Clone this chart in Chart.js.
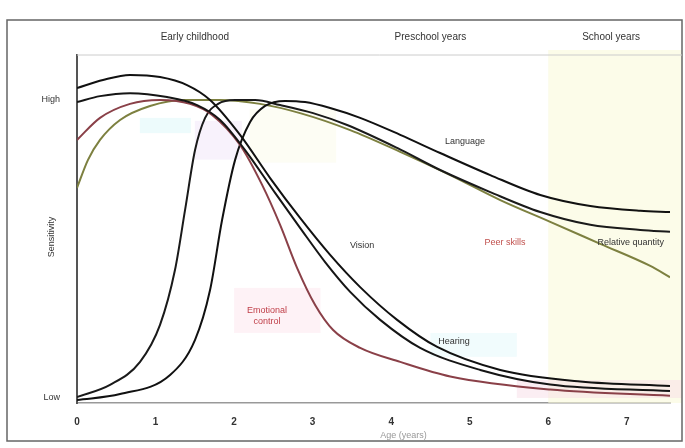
<!DOCTYPE html>
<html>
<head>
<meta charset="utf-8">
<script src="https://cdn.jsdelivr.net/npm/chart.js@4"></script>
<style>
  html, body { margin: 0; padding: 0; background: #fff; }
  canvas { display: block; }
</style>
</head>
<body>
<canvas id="sensitivityChart" width="685" height="448"></canvas>
<script>
// values (x = age in years, y = sensitivity, 0 = Low, 1 = High)
const xTicks = [0, 1, 2, 3, 4, 5, 6, 7];
const yTickLabels = { 0: 'Low', 1: 'High' };
const periods = ['Early childhood', 'Preschool years', 'School years'];
const periodCenters = [1.5, 4.5, 6.8];

const visionX = [0, 0.331, 0.675, 1.057, 1.401, 1.694, 2.076, 2.459, 2.84, 3.223, 3.605, 4.076, 4.586, 5.389, 6.408, 7.55];
const visionY = [1.04, 1.067, 1.084, 1.077, 1.05, 1.0, 0.883, 0.738, 0.604, 0.48, 0.372, 0.262, 0.171, 0.094, 0.055, 0.04];

const blackTwoX = [0, 0.293, 0.675, 1.146, 1.529, 1.822, 2.14, 2.522, 2.84, 3.159, 3.478, 3.86, 4.369, 5.134, 6.025, 7.55];
const blackTwoY = [0.993, 1.013, 1.023, 1.01, 0.983, 0.933, 0.832, 0.688, 0.571, 0.456, 0.356, 0.262, 0.168, 0.094, 0.045, 0.023];

const emotionX = [0, 0.293, 0.675, 1.057, 1.439, 1.72, 2.076, 2.357, 2.586, 2.803, 3.032, 3.261, 3.605, 4.115, 4.752, 6.025, 7.55];
const emotionY = [0.866, 0.94, 0.987, 1.0, 0.987, 0.95, 0.849, 0.715, 0.581, 0.436, 0.312, 0.228, 0.168, 0.121, 0.072, 0.028, 0.007];

const languageX = [0, 0.548, 1.185, 1.503, 1.694, 1.847, 2.013, 2.204, 2.395, 2.65, 2.904, 3.223, 3.605, 4.115, 4.624, 5.261, 5.898, 6.535, 7.172, 7.55];
const languageY = [-0.007, 0.013, 0.077, 0.195, 0.362, 0.597, 0.799, 0.926, 0.98, 0.997, 0.993, 0.973, 0.94, 0.883, 0.822, 0.748, 0.681, 0.644, 0.628, 0.624];

const learningX = [0, 0.42, 0.803, 1.057, 1.248, 1.376, 1.503, 1.631, 1.796, 2.013, 2.268, 2.586, 3.006, 3.439, 4.076, 4.624, 5.261, 5.898, 6.535, 7.172, 7.55];
const learningY = [0.003, 0.044, 0.121, 0.245, 0.43, 0.631, 0.832, 0.94, 0.987, 1.0, 1.0, 0.983, 0.956, 0.916, 0.839, 0.765, 0.691, 0.624, 0.581, 0.564, 0.558];

const peerX = [0, 0.14, 0.293, 0.548, 0.93, 1.376, 1.822, 2.331, 2.84, 3.478, 4.115, 4.752, 5.389, 6.025, 6.662, 7.299, 7.55];
const peerY = [0.705, 0.799, 0.866, 0.933, 0.98, 1.0, 1.0, 0.987, 0.956, 0.899, 0.826, 0.748, 0.664, 0.591, 0.517, 0.443, 0.405];

function points(xs, ys) {
    return xs.map((x, i) => ({ x: x, y: ys[i] }));
}

// faint coloured areas behind the curves: [xMin, xMax, yMin, yMax, colour]
const shadeBoxes = [
    [6.0, 7.7, -0.017, 1.17, 'rgba(250, 250, 218, 0.6)'],
    [0.8, 1.45, 0.889, 0.94, 'rgba(225, 248, 250, 0.6)'],
    [1.5, 2.1, 0.8, 0.93, 'rgba(243, 233, 250, 0.6)'],
    [2.0, 3.1, 0.218, 0.369, 'rgba(253, 236, 242, 0.7)'],
    [2.2, 3.3, 0.79, 0.97, 'rgba(252, 251, 236, 0.6)'],
    [4.5, 5.6, 0.138, 0.218, 'rgba(232, 250, 252, 0.6)'],
    [5.6, 7.7, 0.0, 0.06, 'rgba(248, 222, 232, 0.5)']
];

// curve labels: [text, x, y, colour]
const curveLabels = [
    ['Language', 4.94, 0.86, '#333'],
    ['Vision', 3.63, 0.513, '#333'],
    ['Hearing', 4.8, 0.19, '#333'],
    ['Emotional', 2.42, 0.295, '#c0404a'],
    ['control', 2.42, 0.255, '#c0404a'],
    ['Peer skills', 5.45, 0.52, '#c0504d'],
    ['Relative quantity', 7.05, 0.52, '#333']
];

const decorations = {
    id: 'decorations',
    beforeDatasetsDraw(chart) {
        const c = chart.ctx;
        const xs = chart.scales.x, ys = chart.scales.y;
        c.save();
        shadeBoxes.forEach(b => {
            const x1 = xs.getPixelForValue(b[0]), x2 = xs.getPixelForValue(b[1]);
            const y1 = Math.max(ys.getPixelForValue(b[3]), 50), y2 = ys.getPixelForValue(b[2]);
            c.fillStyle = b[4];
            c.fillRect(x1, y1, x2 - x1, y2 - y1);
        });
        c.restore();
    },
    afterDraw(chart) {
        const c = chart.ctx;
        const xs = chart.scales.x, ys = chart.scales.y;
        const area = chart.chartArea;
        c.save();
        // frame
        c.strokeStyle = '#666';
        c.lineWidth = 1.5;
        c.strokeRect(7, 20, 675, 421);
        c.strokeStyle = '#ccc';
        c.lineWidth = 1;
        c.beginPath();
        c.moveTo(area.left, 55);
        c.lineTo(682, 55);
        c.stroke();
        // period headers
        c.fillStyle = '#333';
        c.font = '10px "Liberation Sans", Arial, sans-serif';
        c.textAlign = 'center';
        c.textBaseline = 'middle';
        periods.forEach((p, i) => {
            c.fillText(p, xs.getPixelForValue(periodCenters[i]), 37);
        });
        // curve labels
        c.font = '9px "Liberation Sans", Arial, sans-serif';
        curveLabels.forEach(l => {
            c.fillStyle = l[3];
            c.fillText(l[0], xs.getPixelForValue(l[1]), ys.getPixelForValue(l[2]));
        });
        // axis titles
        c.fillStyle = '#333';
        c.save();
        c.translate(52, (area.top + area.bottom) / 2 + 8);
        c.rotate(-Math.PI / 2);
        c.fillText('Sensitivity', 0, 0);
        c.restore();
        c.fillStyle = '#999';
        c.fillText('Age (years)', (area.left + area.right) / 2 + 30, 436);
        c.restore();
    }
};

const ctx = document.getElementById('sensitivityChart').getContext('2d');

const chart = new Chart(ctx, {
    type: 'line',
    data: {
        datasets: [
            { label: 'Vision', data: points(visionX, visionY), borderColor: '#111' },
            { label: 'Black two', data: points(blackTwoX, blackTwoY), borderColor: '#151515' },
            { label: 'Emotional control', data: points(emotionX, emotionY), borderColor: '#8a4048' },
            { label: 'Language', data: points(languageX, languageY), borderColor: '#111' },
            { label: 'Learning', data: points(learningX, learningY), borderColor: '#1a1a1a' },
            { label: 'Peer skills', data: points(peerX, peerY), borderColor: '#7d8040' }
        ]
    },
    options: {
        responsive: false,
        animation: false,
        parsing: false,
        datasets: {
            line: {
                borderWidth: 2,
                pointRadius: 0,
                fill: false,
                cubicInterpolationMode: 'monotone'
            }
        },
        layout: { padding: { top: 55, right: 15, bottom: 0, left: 0 } },
        plugins: {
            legend: { display: false },
            tooltip: { enabled: false }
        },
        scales: {
            x: {
                type: 'linear',
                min: 0,
                max: 7.55,
                afterFit(scale) { scale.height = 45; },
                afterBuildTicks(scale) { scale.ticks = xTicks.map(v => ({ value: v })); },
                grid: { display: false, drawTicks: false },
                border: { color: '#999', width: 1.5 },
                ticks: {
                    padding: 13,
                    color: '#333',
                    font: { size: 10, weight: 'bold', family: '"Liberation Sans", Arial, sans-serif' }
                }
            },
            y: {
                min: -0.017,
                max: 1.151,
                afterFit(scale) { scale.width = 77; },
                afterBuildTicks(scale) { scale.ticks = Object.keys(yTickLabels).map(v => ({ value: Number(v) })); },
                grid: { display: false, drawTicks: false },
                border: { color: '#555', width: 2 },
                ticks: {
                    padding: 17,
                    color: '#333',
                    font: { size: 9, family: '"Liberation Sans", Arial, sans-serif' },
                    callback: v => yTickLabels[v]
                }
            }
        }
    },
    plugins: [decorations]
});
</script>
</body>
</html>
